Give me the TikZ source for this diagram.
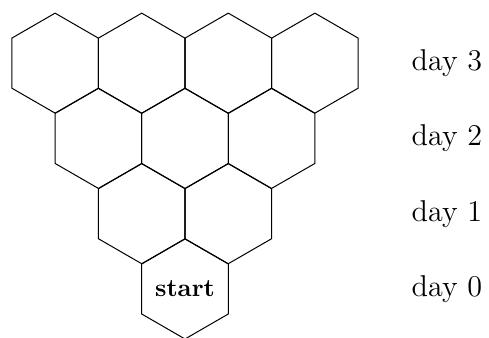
\documentclass[tikz,border=0pt]{standalone}
\usetikzlibrary{shapes.geometric,positioning}

\begin{document}
\begin{tikzpicture}[
    hexcell/.style={regular polygon, regular polygon sides=6, shape border rotate=30,
        draw, minimum size=1.4cm, inner sep=0pt},
    daylabel/.style={anchor=west, font=\large}
    ]
    \useasboundingbox (-2.59,-0.672) rectangle (4.256,4.046);

    % Hexagons, one row per day
    \foreach \k in {0,...,3}{
        \foreach \i in {0,...,\k}{
            \node [hexcell] (hex-\k-\i) at ({(\i-\k/2)*1.2124},{\k*1.054}) {};
        }
    }
    \node [font=\bfseries] (start) at (hex-0-0) {start};

    % Day labels
    \foreach \k in {0,...,3}{
        \node [daylabel] (day\k) at (3.05,{\k*1.054}) {day \k};
    }
\end{tikzpicture}
\end{document}
